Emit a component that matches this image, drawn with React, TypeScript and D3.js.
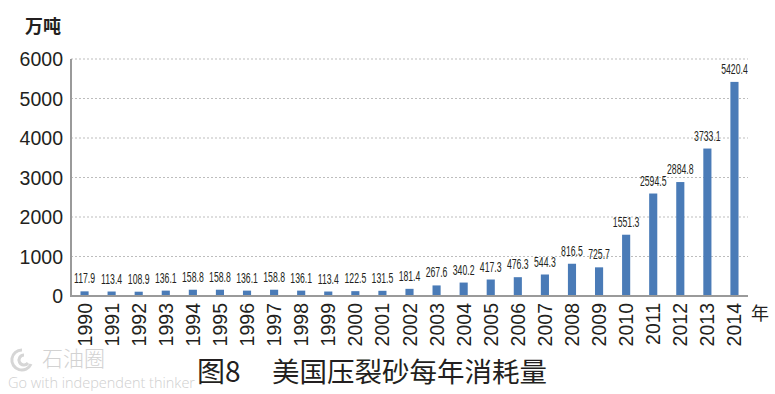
import * as d3 from "d3";

const years = [
  "1990", "1991", "1992", "1993", "1994", "1995", "1996", "1997", "1998", "1999",
  "2000", "2001", "2002", "2003", "2004", "2005", "2006", "2007", "2008", "2009",
  "2010", "2011", "2012", "2013", "2014",
];
const consumption = [
  117.9, 113.4, 108.9, 136.1, 158.8, 158.8, 136.1, 158.8, 136.1, 113.4,
  122.5, 131.5, 181.4, 267.6, 340.2, 417.3, 476.3, 544.3, 816.5, 725.7,
  1551.3, 2594.5, 2884.8, 3733.1, 5420.4,
];
const yTicks = [0, 1000, 2000, 3000, 4000, 5000, 6000];

const W = 775;
const H = 394;
const margin = { left: 71, right: 27, top: 59, bottom: 98 };
const ink = "#231f20";
const barColor = "#4a7bb7";

export default function App() {
  const x = d3
    .scaleBand<string>()
    .domain(years)
    .range([margin.left, W - margin.right])
    .paddingInner(0.7)
    .paddingOuter(0.35);
  const y = d3.scaleLinear().domain([0, 6000]).range([H - margin.bottom, margin.top]);
  const y0 = y(0);
  const right = W - margin.right;

  return (
    <div style={{ position: "absolute", left: 0, top: 0 }}>
      <svg width={W} height={H} style={{ display: "block", background: "#fff" }}>
        {/* unit label */}
        <text x={25} y={33} fontSize={18} fontWeight={600} fill={ink}
          fontFamily="'Noto Sans CJK SC', sans-serif">万吨</text>

        {/* grid lines */}
        {yTicks.filter((t) => t > 0).map((t) => (
          <line key={t} x1={margin.left} x2={right} y1={y(t)} y2={y(t)}
            stroke="#bdbdbd" strokeWidth={1} strokeDasharray="2,2" />
        ))}

        {/* y tick labels */}
        {yTicks.map((t) => (
          <text key={t} x={63} y={y(t)} dy="0.36em" textAnchor="end" fontSize={19.5}
            fill={ink} fontFamily="'Liberation Sans', Arial, sans-serif">{t}</text>
        ))}

        {/* bars */}
        {years.map((yr, i) => (
          <rect key={yr} x={x(yr)!} y={y(consumption[i])} width={x.bandwidth()}
            height={y0 - y(consumption[i])} fill={barColor} />
        ))}

        {/* value labels */}
        {years.map((yr, i) => (
          <text key={yr}
            transform={`translate(${x(yr)! + x.bandwidth() / 2},${y(consumption[i]) - 8}) scale(0.6,1)`}
            textAnchor="middle" fontSize={14.5} fill={ink}
            fontFamily="'Liberation Sans Narrow', 'Liberation Sans', sans-serif">
            {consumption[i].toFixed(1)}
          </text>
        ))}

        {/* axes */}
        <line x1={margin.left} x2={margin.left} y1={margin.top} y2={y0 + 1} stroke="#9a9a9a" strokeWidth={2} />
        <line x1={margin.left - 1} x2={right} y1={y0} y2={y0} stroke="#9a9a9a" strokeWidth={2} />

        {/* x tick labels */}
        {years.map((yr) => (
          <text key={yr}
            transform={`translate(${x(yr)! + x.bandwidth() / 2},${y0 + 7}) rotate(-90)`}
            textAnchor="end" dy="0.36em" fontSize={19.5} fill={ink}
            fontFamily="'Liberation Sans', Arial, sans-serif">{yr}</text>
        ))}
        <text x={751} y={320} fontSize={18} fill={ink}
          fontFamily="'Noto Sans CJK SC', sans-serif">年</text>

        {/* watermark */}
        <g fill="none" stroke="#d6d6d6" strokeWidth={3}>
          <path d="M22,350 A10,10 0 1,0 31,364" />
          <path d="M24,355 A5,5 0 1,0 28,363" />
        </g>
        <text x={42} y={366} fontSize={21} fill="#d2d2d2"
          fontFamily="'Noto Sans CJK SC', sans-serif" fontWeight={300}>石油圈</text>
        <text x={8} y={388} fontSize={14} fill="#cfcfcf" textLength={187}
          lengthAdjust="spacingAndGlyphs" fontFamily="'Open Sans', sans-serif" fontWeight={300}>
          Go with independent thinker
        </text>

        {/* title */}
        <text x={197} y={382} fontSize={28} fill={ink}
          fontFamily="'Noto Sans CJK SC', sans-serif">图8</text>
        <text x={272} y={382} fontSize={27.5} fill={ink}
          fontFamily="'Noto Sans CJK SC', sans-serif">美国压裂砂每年消耗量</text>
      </svg>
    </div>
  );
}
